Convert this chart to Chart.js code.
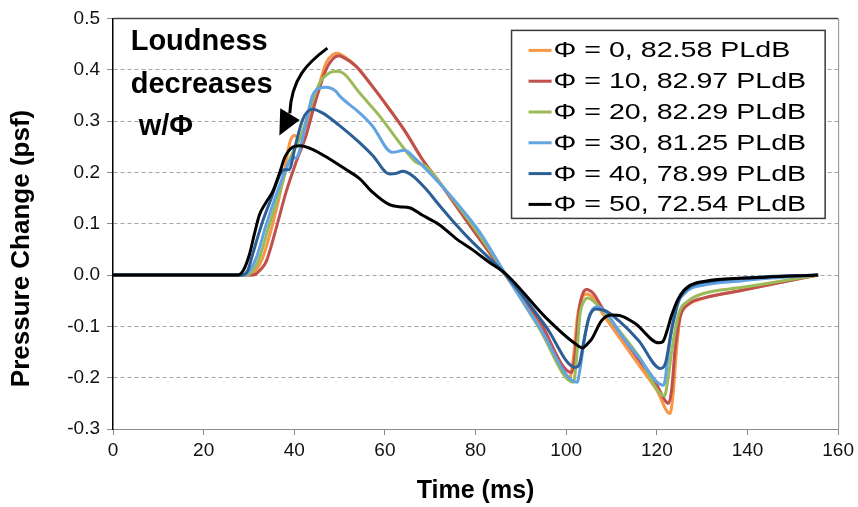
<!DOCTYPE html>
<html>
<head>
<meta charset="utf-8">
<script src="https://cdn.jsdelivr.net/npm/chart.js@4.4.0/dist/chart.umd.min.js"></script>
<style>
    html, body { margin: 0; padding: 0; background: #fff; }
    #wrap { width: 858px; height: 507px; }
</style>
</head>
<body>
<div id="wrap"><canvas id="pressureChart" width="858" height="507"></canvas></div>
<script>
// Datos (tiempo en ms, presion en psf)
const seriesLabels = [
    '\u03A6 = 0, 82.58 PLdB',
    '\u03A6 = 10, 82.97 PLdB',
    '\u03A6 = 20, 82.29 PLdB',
    '\u03A6 = 30, 81.25 PLdB',
    '\u03A6 = 40, 78.99 PLdB',
    '\u03A6 = 50, 72.54 PLdB'
];
const seriesColors = ['#F79646', '#C0504D', '#9BBB59', '#62A3E2', '#2C5F96', '#000000'];

const xTicks = [0, 20, 40, 60, 80, 100, 120, 140, 160];
const yTicks = [-0.3, -0.2, -0.1, 0.0, 0.1, 0.2, 0.3, 0.4, 0.5];

// Phi = 0
const t0 = [0, 30.5, 31.6, 33, 35.2, 37.4, 39, 40, 41.2, 42.6, 44.8, 47, 48.4, 49.5, 50.6, 53.6, 57.2, 61, 64.6, 68.2, 72, 79.2, 86.7, 94, 100.8, 101.6, 102.5, 103.5, 104.5, 106, 108, 112, 116, 120, 122.9, 123.6, 124.3, 125.1, 126, 127, 130.7, 138, 145.3, 155.6];
const p0 = [0, 0, 0.01, 0.033, 0.098, 0.181, 0.258, 0.272, 0.265, 0.291, 0.349, 0.413, 0.429, 0.432, 0.428, 0.407, 0.368, 0.323, 0.278, 0.226, 0.181, 0.091, -0.002, -0.092, -0.2, -0.16, -0.08, -0.045, -0.037, -0.045, -0.075, -0.125, -0.175, -0.225, -0.27, -0.23, -0.15, -0.085, -0.065, -0.057, -0.044, -0.031, -0.018, 0];

// Phi = 10
const t10 = [0, 31, 32.5, 33.8, 36, 38.2, 40.4, 42.6, 44.8, 47, 48.4, 49.8, 51, 53.6, 57.2, 61, 64.6, 68.2, 72, 79.2, 86.7, 94, 101.2, 102, 102.8, 103.7, 104.5, 106, 108, 112, 116, 120, 122.6, 123.3, 124, 125.1, 127, 130.7, 138, 145.3, 155.6];
const p10 = [0, 0, 0.01, 0.026, 0.091, 0.162, 0.22, 0.272, 0.342, 0.4, 0.42, 0.427, 0.423, 0.407, 0.368, 0.323, 0.278, 0.226, 0.181, 0.091, 0, -0.088, -0.19, -0.15, -0.07, -0.035, -0.028, -0.036, -0.065, -0.115, -0.165, -0.215, -0.25, -0.22, -0.147, -0.083, -0.057, -0.044, -0.031, -0.018, 0];

// Phi = 20
const t20 = [0, 29.5, 31, 32.3, 34.5, 36.8, 39, 41.2, 43.4, 45.6, 47.8, 49.5, 51, 54.4, 58.8, 63.2, 66.8, 69, 72, 79.2, 86.7, 94, 101.6, 102.3, 103, 104, 104.8, 106.5, 110, 116, 121.7, 122.5, 123.3, 124.8, 127, 130.7, 138, 145.3, 155.6];
const p20 = [0, 0, 0.01, 0.033, 0.098, 0.162, 0.226, 0.265, 0.323, 0.374, 0.394, 0.397, 0.392, 0.355, 0.31, 0.258, 0.22, 0.212, 0.181, 0.098, 0, -0.103, -0.209, -0.16, -0.08, -0.05, -0.045, -0.055, -0.09, -0.158, -0.235, -0.2, -0.147, -0.076, -0.05, -0.035, -0.025, -0.015, 0];

// Phi = 30
const t30 = [0, 29, 30.3, 31.6, 33.8, 36, 38.2, 39.6, 40.3, 41, 42.6, 44, 45.5, 47, 49.2, 50, 54.4, 57.2, 61.6, 64.3, 66.8, 70.4, 75.7, 80.8, 86.7, 94, 102.4, 103.1, 104.2, 105.6, 107, 109, 112, 116, 121.5, 122.6, 124, 126.2, 130.7, 138, 145.3, 155.6];
const p30 = [0, 0, 0.01, 0.033, 0.098, 0.156, 0.207, 0.229, 0.228, 0.238, 0.297, 0.349, 0.364, 0.366, 0.358, 0.349, 0.316, 0.291, 0.239, 0.243, 0.226, 0.194, 0.142, 0.085, 0, -0.1, -0.209, -0.18, -0.115, -0.07, -0.062, -0.075, -0.115, -0.16, -0.215, -0.147, -0.07, -0.035, -0.019, -0.012, -0.006, 0];

// Phi = 40
const t40 = [0, 28.5, 29.8, 30.8, 33, 34.9, 36.8, 37.8, 38.8, 40.4, 41.9, 44, 46.2, 50, 54.4, 57.3, 61, 62.5, 63.9, 66, 69, 72, 75.7, 79.2, 83, 86.7, 95.5, 102, 102.8, 103.9, 105, 106.5, 108.7, 111.6, 116, 120.8, 121.9, 123.2, 124.8, 127, 132, 143, 155.6];
const p40 = [0, 0, 0.01, 0.04, 0.104, 0.149, 0.195, 0.205, 0.205, 0.258, 0.304, 0.323, 0.316, 0.291, 0.258, 0.233, 0.197, 0.198, 0.202, 0.194, 0.168, 0.136, 0.098, 0.065, 0.033, 0, -0.1, -0.18, -0.176, -0.128, -0.083, -0.066, -0.07, -0.089, -0.128, -0.182, -0.172, -0.109, -0.051, -0.025, -0.012, -0.004, 0];

// Phi = 50
const t50 = [0, 27.5, 28.8, 30.1, 31.2, 32.3, 33.8, 35.2, 36.8, 37.9, 39.6, 41.2, 44, 47.8, 51.5, 54.4, 57.2, 61, 63.2, 65.4, 68.2, 72, 75.7, 79.2, 83, 86.7, 95.5, 102, 103.6, 104.6, 105.6, 107.8, 110, 112.2, 115.3, 120.4, 121.3, 122.2, 123.2, 124.8, 127, 130.7, 139.5, 155.5];
const p50 = [0, 0, 0.01, 0.04, 0.08, 0.117, 0.142, 0.162, 0.2, 0.229, 0.249, 0.252, 0.245, 0.226, 0.205, 0.188, 0.162, 0.137, 0.133, 0.131, 0.117, 0.098, 0.071, 0.05, 0.025, 0.002, -0.083, -0.134, -0.142, -0.135, -0.125, -0.089, -0.078, -0.08, -0.095, -0.132, -0.13, -0.11, -0.08, -0.045, -0.022, -0.012, -0.006, 0];

const seriesTimes = [t0, t10, t20, t30, t40, t50];
const seriesValues = [p0, p10, p20, p30, p40, p50];

const yTitle = 'Pressure Change (psf)';
const xTitle = 'Time (ms)';
const noteLines = ['Loudness', 'decreases', ' w/\u03A6'];

const FONT = '"Liberation Sans", Arial, sans-serif';

/**
 * Marco del area de trazado (lineas superior y derecha)
 */
const framePlugin = {
    id: 'frame',
    beforeDatasetsDraw(chart) {
        const { ctx, chartArea: a } = chart;
        ctx.save();
        ctx.lineWidth = 1.5;
        ctx.strokeStyle = '#444';
        ctx.beginPath();
        ctx.moveTo(a.left, a.top);
        ctx.lineTo(a.right, a.top);
        ctx.stroke();
        ctx.lineWidth = 1;
        ctx.strokeStyle = '#8c8c8c';
        ctx.beginPath();
        ctx.moveTo(a.right + 0.5, a.top);
        ctx.lineTo(a.right + 0.5, a.bottom);
        ctx.stroke();
        ctx.restore();
    }
};

/**
 * Titulo del eje Y centrado en la figura completa
 */
const yTitlePlugin = {
    id: 'yTitle',
    afterDraw(chart) {
        const ctx = chart.ctx;
        ctx.save();
        ctx.translate(22, chart.height / 2 - 5);
        ctx.rotate(-Math.PI / 2);
        ctx.font = 'bold 26px ' + FONT;
        ctx.textAlign = 'center';
        ctx.textBaseline = 'middle';
        ctx.fillStyle = '#000';
        ctx.fillText(yTitle, 0, 0);
        ctx.restore();
    }
};

/**
 * Nota "Loudness decreases w/Phi" con la flecha curva
 */
const notePlugin = {
    id: 'note',
    afterDatasetsDraw(chart) {
        const ctx = chart.ctx;
        const sx = chart.scales.x, sy = chart.scales.y;
        const px = v => sx.getPixelForValue(v);
        const py = v => sy.getPixelForValue(v);
        ctx.save();
        ctx.font = 'bold 29px ' + FONT;
        ctx.fillStyle = '#000';
        ctx.textAlign = 'left';
        ctx.textBaseline = 'alphabetic';
        ctx.fillText(noteLines[0], px(3.9), py(0.438));
        ctx.fillText(noteLines[1], px(3.9), py(0.355));
        ctx.fillText(noteLines[2], px(3.9), py(0.272));

        // flecha
        ctx.strokeStyle = '#000';
        ctx.lineWidth = 3;
        ctx.beginPath();
        ctx.moveTo(px(47.3), py(0.442));
        ctx.bezierCurveTo(px(42.9), py(0.413), px(39.4), py(0.384), px(39.0), py(0.315));
        ctx.stroke();
        ctx.beginPath();
        ctx.moveTo(px(36.7), py(0.272));
        ctx.lineTo(px(36.9), py(0.325));
        ctx.lineTo(px(41.2), py(0.302));
        ctx.closePath();
        ctx.fill();
        ctx.restore();
    }
};

/**
 * Leyenda dentro del area de trazado, arriba a la derecha
 */
const boxLegendPlugin = {
    id: 'boxLegend',
    afterDraw(chart) {
        const { ctx, chartArea: a } = chart;
        const stretch = 1.3;
        const rowH = 30.8;
        ctx.save();
        ctx.font = '22px ' + FONT;
        const textW = Math.max(...seriesLabels.map(s => ctx.measureText(s).width)) * stretch;
        const w = 17 + 23 + 2 + textW + 19;
        const h = 188;
        const left = a.right - 13 - w;
        const top = a.top + 12;
        ctx.fillStyle = '#fff';
        ctx.fillRect(left, top, w, h);
        ctx.strokeStyle = '#3a3a3a';
        ctx.lineWidth = 1.5;
        ctx.strokeRect(left, top, w, h);

        seriesLabels.forEach((label, i) => {
            const cy = top + 20 + i * rowH;
            ctx.strokeStyle = seriesColors[i];
            ctx.lineWidth = 3;
            ctx.beginPath();
            ctx.moveTo(left + 17, cy);
            ctx.lineTo(left + 40, cy);
            ctx.stroke();

            ctx.save();
            ctx.translate(left + 42, cy);
            ctx.scale(stretch, 1);
            ctx.fillStyle = '#000';
            ctx.textAlign = 'left';
            ctx.textBaseline = 'middle';
            ctx.fillText(label, 0, 1);
            ctx.restore();
        });
        ctx.restore();
    }
};

// Orden de dibujo: la primera serie queda debajo, la negra encima
const datasets = seriesLabels.map((label, i) => ({
    label: label,
    data: seriesTimes[i].map((t, j) => ({ x: t, y: seriesValues[i][j] })),
    borderColor: seriesColors[i],
    backgroundColor: seriesColors[i],
    borderWidth: 3,
    pointRadius: 0,
    fill: false,
    order: seriesLabels.length - i,
    cubicInterpolationMode: 'monotone'
}));

const config = {
    type: 'line',
    data: { datasets: datasets },
    options: {
        responsive: false,
        animation: false,
        layout: { padding: { left: 0, top: 15, right: 18, bottom: 0 } },
        plugins: {
            legend: { display: false },
            tooltip: { enabled: false }
        },
        scales: {
            x: {
                type: 'linear',
                min: 0,
                max: 160,
                afterBuildTicks: axis => { axis.ticks = xTicks.map(v => ({ value: v })); },
                afterFit: scale => { scale.height = 78; },
                ticks: {
                    color: '#111',
                    font: { size: 19, family: FONT },
                    padding: 4,
                    maxRotation: 0
                },
                grid: {
                    drawOnChartArea: false,
                    drawTicks: true,
                    tickLength: 6,
                    tickColor: '#8c8c8c'
                },
                border: { color: '#8c8c8c', width: 1 },
                title: {
                    display: true,
                    text: xTitle,
                    color: '#000',
                    font: { size: 25, weight: 'bold', family: FONT },
                    padding: { top: 0, bottom: 1 }
                }
            },
            y: {
                type: 'linear',
                min: -0.3,
                max: 0.5,
                afterBuildTicks: axis => { axis.ticks = yTicks.map(v => ({ value: v })); },
                afterFit: scale => { scale.width = 113; },
                ticks: {
                    color: '#111',
                    font: { size: 19, family: FONT },
                    padding: 7,
                    callback: v => Number(v).toFixed(1)
                },
                grid: {
                    color: '#a6a6a6',
                    lineWidth: 1,
                    drawTicks: true,
                    tickLength: 6,
                    tickColor: '#8c8c8c'
                },
                border: { color: '#000', width: 1.5, dash: [4, 3] }
            }
        }
    },
    plugins: [framePlugin, notePlugin, boxLegendPlugin, yTitlePlugin]
};

const pressureChart = new Chart(document.getElementById('pressureChart'), config);
</script>
</body>
</html>
